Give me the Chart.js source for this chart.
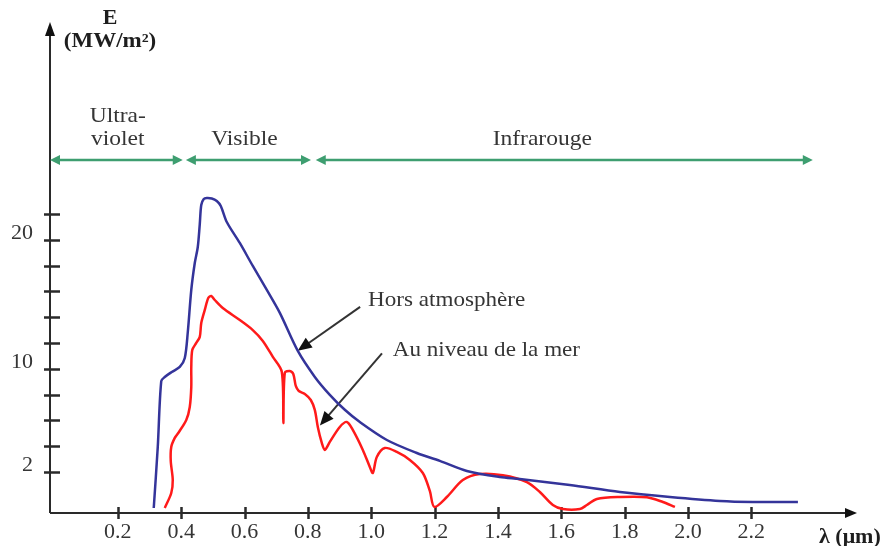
<!DOCTYPE html>
<html>
<head>
<meta charset="utf-8">
<script src="https://cdn.jsdelivr.net/npm/chart.js@4/dist/chart.umd.min.js"></script>
<style>
  html, body { margin: 0; padding: 0; background: #ffffff; }
  canvas { display: block; }
</style>
</head>
<body>
<canvas id="spectre" width="888" height="546"></canvas>
<script>
// Wavelength axis (µm)
const lambdaTicks = [0.2, 0.4, 0.6, 0.8, 1.0, 1.2, 1.4, 1.6, 1.8, 2.0, 2.2];
const lambdaLabels = ['0.2', '0.4', '0.6', '0.8', '1.0', '1.2', '1.4', '1.6', '1.8', '2.0', '2.2'];

// Irradiance axis (MW/m²)
const energyTickMarks = [2, 4, 6, 8, 10, 12, 14, 16, 18, 20, 22];
const energyLabels = [2, 10, 20];

// Solar spectrum outside the atmosphere
const horsLambda = [0.3135, 0.3262, 0.3372, 0.3482, 0.3704, 0.3957, 0.4115, 0.4210, 0.4320, 0.4430,
  0.4525, 0.4588, 0.4635, 0.4714, 0.4809, 0.4967, 0.5125, 0.5251, 0.5441, 0.5851,
  0.6262, 0.6704, 0.7115, 0.7683, 0.8220, 0.8693, 0.9166, 0.9641, 1.0493, 1.1441,
  1.2167, 1.3019, 1.4060, 1.4690, 1.6270, 1.7850, 1.9430, 2.1010, 2.2050, 2.3470];
const horsE = [-0.79, 3.94, 9.05, 9.36, 9.75, 10.14, 10.84, 12.85, 16.11, 18.2,
  19.44, 21.22, 22.7, 23.16, 23.24, 23.2, 23.01, 22.62, 21.38, 19.75,
  17.97, 16.11, 14.33, 11.38, 9.37, 7.98, 6.82, 5.87, 4.48, 3.47,
  2.86, 2.08, 1.61, 1.46, 0.99, 0.45, 0.06, -0.25, -0.33, -0.33];

// Solar spectrum at sea level
const merLambda = [0.3483, 0.3688, 0.3735, 0.3672, 0.3688, 0.3799, 0.3909, 0.4162, 0.4272, 0.4320,
  0.4320, 0.4351, 0.4477, 0.4588, 0.4635, 0.4746, 0.4856, 0.4951, 0.5062, 0.5314,
  0.5851, 0.6262, 0.6578, 0.6894, 0.7178, 0.7225, 0.7272, 0.7430, 0.7540, 0.7619,
  0.7714, 0.7904, 0.8093, 0.8219, 0.8314, 0.8440, 0.8535, 0.8693, 0.9008, 0.9230,
  0.9419, 0.9735, 0.9956, 1.0051, 1.0177, 1.0429, 1.0808, 1.1219, 1.1629, 1.1850,
  1.1992, 1.2387, 1.2892, 1.3429, 1.4155, 1.4913, 1.5323, 1.5734, 1.6050, 1.6587,
  1.6808, 1.7124, 1.7850, 1.8703, 1.9208, 1.9587];
const merE = [-0.79, 0.37, 1.38, 2.85, 3.94, 4.64, 5.02, 6.03, 7.04, 8.6,
  10.15, 11.46, 12.0, 12.47, 13.55, 14.56, 15.49, 15.64, 15.33, 14.71,
  13.78, 13.0, 12.16, 10.92, 9.75, 5.8, 9.68, 9.83, 9.6, 8.67,
  8.28, 8.05, 7.58, 6.81, 5.49, 4.25, 3.71, 4.33, 5.49, 5.88,
  5.26, 3.71, 2.39, 1.92, 3.16, 3.86, 3.55, 2.93, 1.92, 0.53,
  -0.71, 0.06, 1.38, 1.84, 1.74, 1.22, 0.45, -0.56, -0.87, -0.87,
  -0.56, -0.09, 0.06, 0.04, -0.33, -0.71];

// Spectral bands (µm)
const bandNames = [['Ultra-', 'violet'], ['Visible'], ['Infrarouge']];
const bandFrom = [-0.014, 0.415, 0.825];
const bandTo = [0.405, 0.81, 2.394];
const bandLabelAt = [0.2, 0.6, 1.54];

// Curve call-outs: text anchor and arrow from -> to, in (λ, E)
const calloutText = ['Hors atmosphère', 'Au niveau de la mer'];
const calloutAnchor = [[0.99, 14.9], [1.068, 11.0]];
const calloutFrom = [[0.965, 14.8], [1.034, 11.2]];
const calloutTo = [[0.768, 11.4], [0.838, 5.6]];

const toPoints = (xs, ys) => xs.map((x, i) => ({ x: x, y: ys[i] }));

const SERIF = '"Liberation Serif", "Times New Roman", serif';
const AXIS = '#2a2a2a';
const TEXT = '#353535';
const GREEN = '#3e9e70';

function arrowHead(ctx, x, y, angle, len, half, color) {
  ctx.save();
  ctx.translate(x, y);
  ctx.rotate(angle);
  ctx.beginPath();
  ctx.moveTo(0, 0);
  ctx.lineTo(-len, -half);
  ctx.lineTo(-len, half);
  ctx.closePath();
  ctx.fillStyle = color;
  ctx.fill();
  ctx.restore();
}

// text drawn slightly widened, like the wide serif face of the labels
function wideText(ctx, str, px, py, stretch) {
  ctx.save();
  ctx.translate(px, py);
  ctx.scale(stretch, 1);
  ctx.fillText(str, 0, 0);
  ctx.restore();
}

const decor = {
  id: 'decor',
  beforeDatasetsDraw(chart) {
    const { ctx, chartArea: a, scales: { x, y } } = chart;
    ctx.save();

    // axes with arrows
    ctx.strokeStyle = AXIS;
    ctx.lineWidth = 2;
    ctx.beginPath();
    ctx.moveTo(a.left, a.bottom);
    ctx.lineTo(a.left, a.top + 10);
    ctx.moveTo(a.left, a.bottom);
    ctx.lineTo(a.right - 8, a.bottom);
    ctx.stroke();
    arrowHead(ctx, a.left, a.top, -Math.PI / 2, 14, 5, '#111');
    arrowHead(ctx, a.right, a.bottom, 0, 12, 5, '#111');

    // tick marks
    ctx.lineWidth = 2.5;
    ctx.beginPath();
    energyTickMarks.forEach(v => {
      const py = Math.round(y.getPixelForValue(v)) + 0.5;
      ctx.moveTo(a.left - 6, py);
      ctx.lineTo(a.left + 10, py);
    });
    lambdaTicks.forEach(v => {
      const px = Math.round(x.getPixelForValue(v)) + 0.5;
      ctx.moveTo(px, a.bottom - 6);
      ctx.lineTo(px, a.bottom + 6);
    });
    ctx.stroke();

    // tick labels
    ctx.fillStyle = TEXT;
    ctx.font = '20px ' + SERIF;
    ctx.textAlign = 'right';
    ctx.textBaseline = 'middle';
    energyLabels.forEach(v => {
      wideText(ctx, String(v), a.left - 17, y.getPixelForValue(v) - 6, 1.1);
    });
    ctx.textAlign = 'center';
    lambdaTicks.forEach((v, i) => {
      wideText(ctx, lambdaLabels[i], x.getPixelForValue(v), a.bottom + 20, 1.1);
    });

    // axis titles
    ctx.fillStyle = '#1e1e1e';
    ctx.font = 'bold 20px ' + SERIF;
    wideText(ctx, 'E', a.left + 60, 19, 1.1);
    wideText(ctx, '(MW/m²)', a.left + 60, 42, 1.15);
    ctx.textAlign = 'left';
    wideText(ctx, 'λ (μm)', a.right - 38, a.bottom + 25, 1.1);

    // spectral bands
    const by = 160;
    ctx.strokeStyle = GREEN;
    ctx.lineWidth = 2.5;
    bandFrom.forEach((f, i) => {
      const x0 = x.getPixelForValue(f);
      const x1 = x.getPixelForValue(bandTo[i]);
      ctx.beginPath();
      ctx.moveTo(x0 + 6, by);
      ctx.lineTo(x1 - 6, by);
      ctx.stroke();
      arrowHead(ctx, x0, by, Math.PI, 10, 5, GREEN);
      arrowHead(ctx, x1, by, 0, 10, 5, GREEN);
    });
    ctx.fillStyle = TEXT;
    ctx.font = '21px ' + SERIF;
    ctx.textAlign = 'center';
    ctx.textBaseline = 'alphabetic';
    bandNames.forEach((lines, i) => {
      const cx = x.getPixelForValue(bandLabelAt[i]);
      if (lines.length === 2) {
        wideText(ctx, lines[0], cx, 122, 1.12);
        wideText(ctx, lines[1], cx, 145, 1.12);
      } else {
        wideText(ctx, lines[0], cx, 145, 1.12);
      }
    });

    // call-outs
    ctx.textAlign = 'left';
    ctx.strokeStyle = '#333';
    ctx.lineWidth = 2;
    calloutText.forEach((t, i) => {
      ctx.fillStyle = TEXT;
      wideText(ctx, t, x.getPixelForValue(calloutAnchor[i][0]), y.getPixelForValue(calloutAnchor[i][1]), 1.1);
      const fx = x.getPixelForValue(calloutFrom[i][0]);
      const fy = y.getPixelForValue(calloutFrom[i][1]);
      const tx = x.getPixelForValue(calloutTo[i][0]);
      const ty = y.getPixelForValue(calloutTo[i][1]);
      const ang = Math.atan2(ty - fy, tx - fx);
      ctx.beginPath();
      ctx.moveTo(fx, fy);
      ctx.lineTo(tx - 10 * Math.cos(ang), ty - 10 * Math.sin(ang));
      ctx.stroke();
      arrowHead(ctx, tx, ty, ang, 14, 6, '#111');
    });

    ctx.restore();
  }
};

new Chart(document.getElementById('spectre'), {
  type: 'line',
  data: {
    datasets: [
      {
        label: 'Hors atmosphère',
        data: toPoints(horsLambda, horsE),
        borderColor: '#34349a',
        borderWidth: 2.5,
        pointRadius: 0,
        tension: 0.3,
        fill: false
      },
      {
        label: 'Au niveau de la mer',
        data: toPoints(merLambda, merE),
        borderColor: '#ff1a1a',
        borderWidth: 2.5,
        pointRadius: 0,
        tension: 0.3,
        fill: false
      }
    ]
  },
  options: {
    responsive: false,
    animation: false,
    devicePixelRatio: 1,
    layout: { padding: { left: 50, right: 31, top: 22, bottom: 33 } },
    plugins: { legend: { display: false }, tooltip: { enabled: false } },
    scales: {
      x: { type: 'linear', display: false, min: -0.014, max: 2.5335 },
      y: { type: 'linear', display: false, min: -1.18, max: 36.88 }
    }
  },
  plugins: [decor]
});
</script>
</body>
</html>
